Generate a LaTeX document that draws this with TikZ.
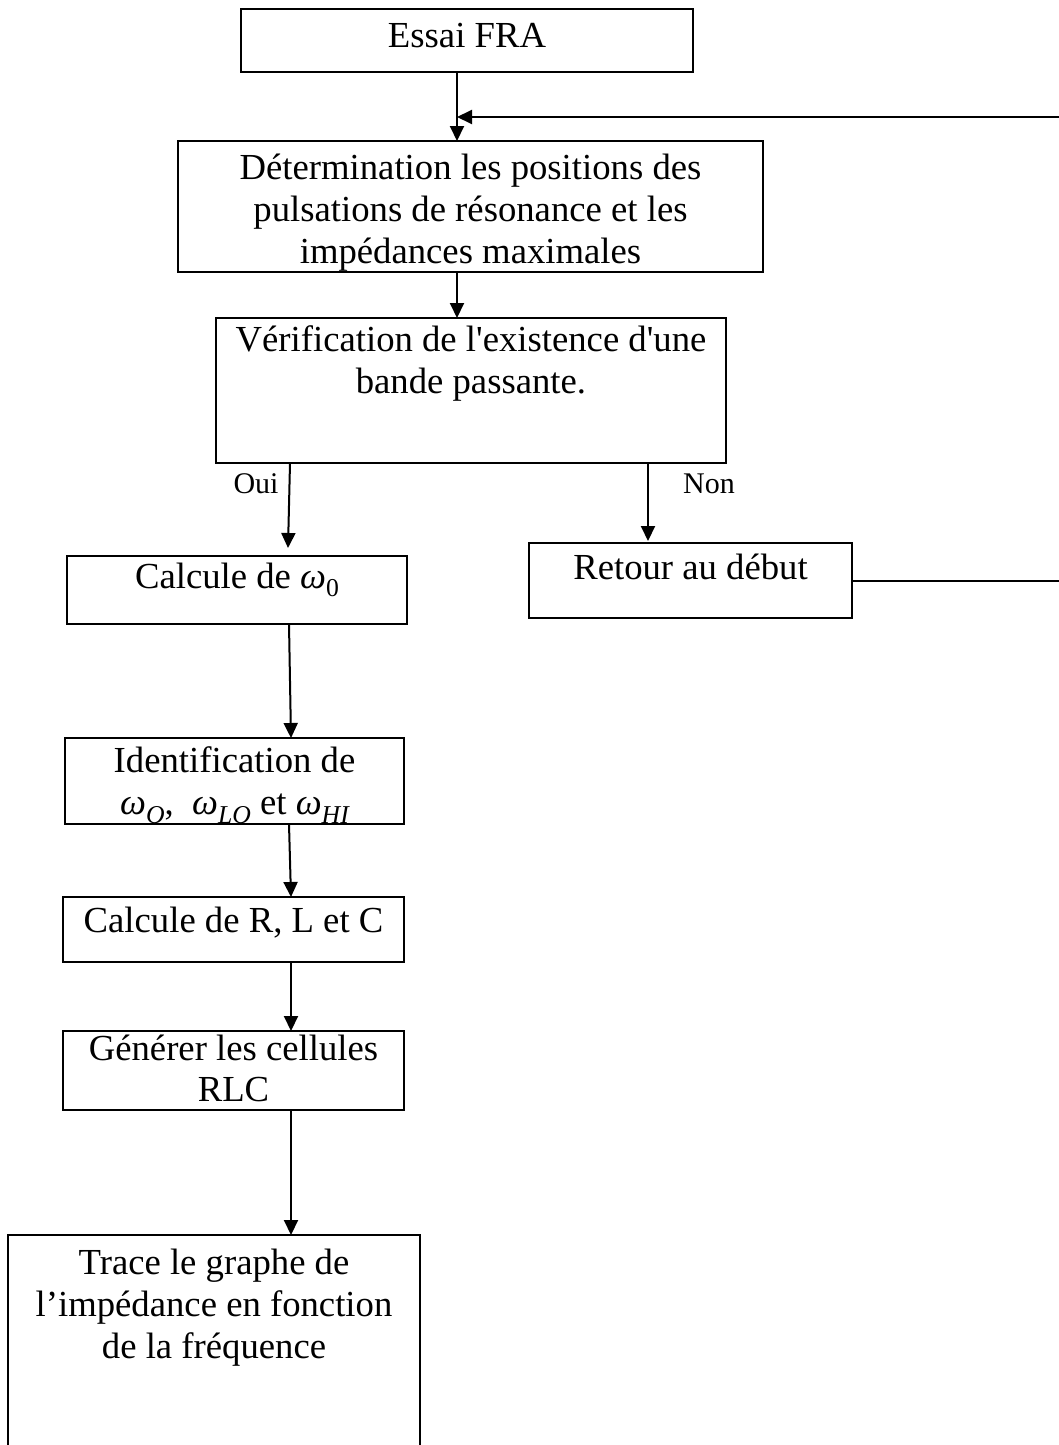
\documentclass[tikz,border=0pt]{standalone}
\usepackage{fontspec}
\setmainfont{Liberation Serif}[Ligatures=TeXOff]
\usetikzlibrary{arrows.meta}
% omega with a lowered subscript, set in the text font
\newcommand\wsub[1]{{\itshape ω}\raisebox{-0.24em}{\fontsize{25.7}{26}\selectfont #1}}
\begin{document}
\begin{tikzpicture}[x=1pt,y=-1pt,
  box/.style={draw, line width=2.4pt, inner sep=0pt, outer sep=0pt, anchor=north west},
  txt/.style={anchor=north, inner sep=0pt, align=center, font=\fontsize{36.7}{42}\selectfont},
  lbl/.style={anchor=base, inner sep=0pt, font=\fontsize{30}{34}\selectfont},
  arr/.style={line width=2pt, -{Triangle[length=15pt,width=14pt]}},
  link/.style={line width=2pt}]
\useasboundingbox (0,0) rectangle (1059,1445);
\clip (0,0) rectangle (1059,1445);

% boxes
\node[box, minimum width=452pt, minimum height=63pt]  (essai) at (241,9)   {};
\node[box, minimum width=585pt, minimum height=131pt] (det)   at (178,141) {};
\node[box, minimum width=510pt, minimum height=145pt] (verif) at (216,318) {};
\node[box, minimum width=340pt, minimum height=68pt]  (calc)  at (67,556)  {};
\node[box, minimum width=323pt, minimum height=75pt]  (ret)   at (529,543) {};
\node[box, minimum width=339pt, minimum height=86pt]  (ident) at (65,738)  {};
\node[box, minimum width=341pt, minimum height=65pt]  (rlc)   at (63,897)  {};
\node[box, minimum width=341pt, minimum height=79pt]  (gen)   at (63,1031) {};
\node[box, minimum width=412pt, minimum height=240pt] (trace) at (8,1235)  {};

% box texts
\node[txt] (essaiT) at ([yshift=-9pt]essai.north) {\strut Essai FRA};
\node[txt] (detT)   at ([yshift=-8.5pt]det.north)
  {\strut D\'etermination les positions des\\pulsations de r\'esonance et les\\imp\'edances maximales};
\node[txt] (verifT) at ([yshift=-3.5pt]verif.north)
  {\strut V\'erification de l'existence d'une\\bande passante.};
\node[txt] (calcT)  at ([yshift=-2.5pt]calc.north) {\strut Calcule de \wsub{0}};
\node[txt] (retT)   at ([yshift=-6.6pt]ret.north) {\strut Retour au d\'ebut};
\node[txt] (identT) at ([yshift=-5pt]ident.north)
  {\strut Identification de\\\wsub{\itshape O},\ \ \wsub{\itshape LO} et \wsub{\itshape HI}};
\node[txt] (rlcT)   at ([yshift=-6pt]rlc.north) {\strut Calcule de R, L et C};
\node[txt, font=\fontsize{36.7}{41}\selectfont] (genT) at ([yshift=-1pt]gen.north)
  {\strut G\'en\'erer les cellules\\RLC};
\node[txt] (traceT) at ([yshift=-9.5pt]trace.north)
  {\strut Trace le graphe de\\l’imp\'edance en fonction\\de la fr\'equence};

% branch labels
\node[lbl] (oui) at (256,493) {Oui};
\node[lbl] (non) at (709,493) {Non};

% connector columns
\coordinate (mx)   at (457,0);
\coordinate (ouiA) at (290,0);
\coordinate (ouiB) at (288,0);
\coordinate (nonX) at (648,0);
\coordinate (cA)   at (289,0);
\coordinate (cB)   at (291,0);
\coordinate (far)  at (1075,117);
\coordinate (join) at (457,117);

% connectors
\draw[arr] (essai.south -| mx) -- (det.north -| mx);
\draw[arr] (det.south -| mx) -- (verif.north -| mx);
\draw[arr] (verif.south -| ouiA) -- ([yshift=8pt]calc.north -| ouiB);
\draw[arr] (verif.south -| nonX) -- ([yshift=2pt]ret.north -| nonX);
\draw[arr] (calc.south -| cA) -- (ident.north -| cB);
\draw[arr] (ident.south -| cA) -- (rlc.north -| cB);
\draw[arr] (rlc.south -| cB) -- (gen.north -| cB);
\draw[arr] (gen.south -| cB) -- (trace.north -| cB);
\draw[arr] (ret.east) -| (far) -- (join);
\end{tikzpicture}
\end{document}
